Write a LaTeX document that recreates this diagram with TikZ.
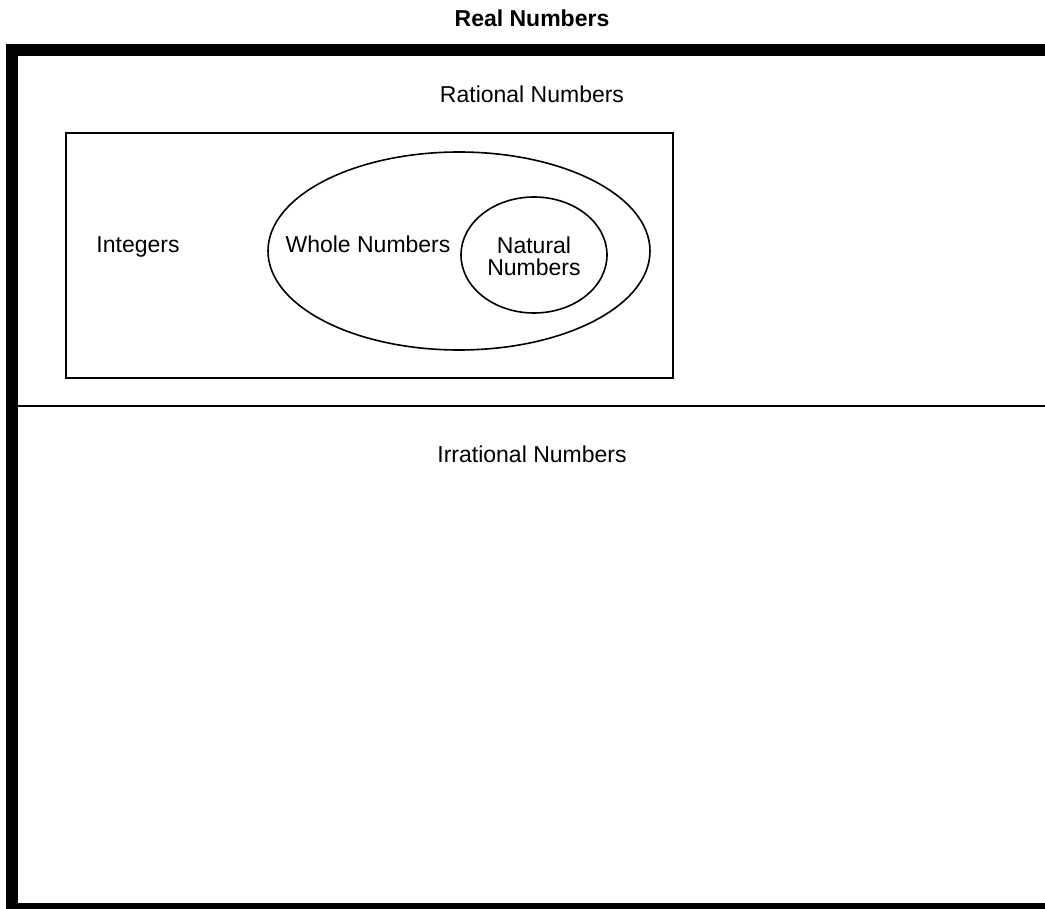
\documentclass[tikz,border=0pt]{standalone}
\usepackage{fontspec}
\setmainfont{Liberation Sans}
\usetikzlibrary{shapes.geometric,positioning}
\tikzstyle{every node}=[font=\fontsize{23}{22}\selectfont,inner sep=0pt]
\tikzstyle{setline} = [line width=1.6pt]
\tikzstyle{setlabel} = [anchor=base]

\begin{document}
\begin{tikzpicture}[x=1pt,y=-1pt]
\useasboundingbox (0,0) rectangle (1045,909);
\clip (0,0) rectangle (1045,909);

% real numbers frame
\draw[line width=12pt] (1060,50) -- (11.5,50) -- (11.5,909) -- (1060,909);
\node[setlabel,font=\fontsize{23}{22}\selectfont\bfseries] (real) at (532,27) {Real Numbers};

% rational / irrational
\coordinate (split west) at (11.5,406);
\coordinate (split east) at (1060,406);
\draw[line width=2pt] (split west) -- (split east);
\node[setlabel] (rational) at (532,103) {Rational Numbers};
\node[setlabel] (irrational) at (532,463) {Irrational Numbers};

% integers, whole, natural
\node[setline,draw,rectangle,minimum width=607pt,minimum height=245pt] (intbox) at (369.5,255.5) {};
\node[setlabel] (integers) at (138,253) {Integers};
\node[setline,draw,ellipse,minimum width=382pt,minimum height=198pt] (wholebox) at (459,251) {};
\node[setlabel] (whole) at (368,253) {Whole Numbers};
\node[setline,draw,ellipse,minimum width=146pt,minimum height=116pt] (naturalbox) at (534,255) {};
\node[align=center] (natural) at (534,256) {Natural\\Numbers};
\end{tikzpicture}
\end{document}
